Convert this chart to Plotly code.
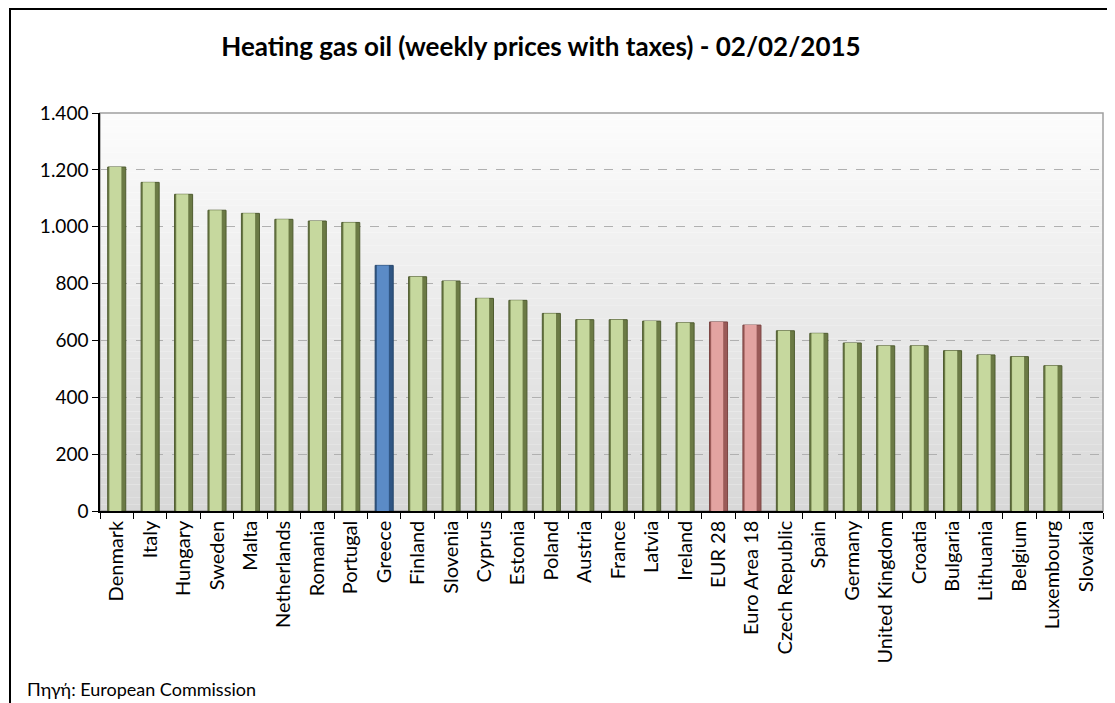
import plotly.graph_objects as go

countries = ["Denmark", "Italy", "Hungary", "Sweden", "Malta", "Netherlands", "Romania",
             "Portugal", "Greece", "Finland", "Slovenia", "Cyprus", "Estonia", "Poland",
             "Austria", "France", "Latvia", "Ireland", "EUR 28", "Euro Area 18",
             "Czech Republic", "Spain", "Germany", "United Kingdom", "Croatia", "Bulgaria",
             "Lithuania", "Belgium", "Luxembourg", "Slovakia"]
prices = [1210, 1156, 1114, 1058, 1047, 1026, 1020, 1015, 864, 824, 809, 748, 741, 695,
          673, 673, 668, 662, 665, 654, 634, 625, 591, 581, 581, 564, 549, 543, 511, None]
y_ticks = [0, 200, 400, 600, 800, 1000, 1200, 1400]

highlight_blue = ["Greece"]
highlight_red = ["EUR 28", "Euro Area 18"]

OFF = 8  # page body margin
W, H = 1115 - OFF, 703 - OFF
L, R, T, B = 100 - OFF, 1103 - OFF, 113 - OFF, 511 - OFF

def col(c, kind):
    if c in highlight_blue:
        return {"dark": "#2f5583", "light": "#5b8bc6", "line": "#24446a"}[kind]
    if c in highlight_red:
        return {"dark": "#9a5a58", "light": "#e3a3a1", "line": "#7d4644"}[kind]
    return {"dark": "#6b7a45", "light": "#c6d89e", "line": "#4f5c30"}[kind]

fig = go.Figure()
fig.add_trace(go.Bar(
    x=countries, y=prices, width=0.54, offset=-0.27,
    marker=dict(color=[col(c, "dark") for c in countries],
                line=dict(color=[col(c, "line") for c in countries], width=1)),
    hoverinfo="x+y", showlegend=False))
fig.add_trace(go.Bar(
    x=countries, y=prices, width=0.36, offset=-0.22,
    marker=dict(color=[col(c, "light") for c in countries], line=dict(width=0)),
    hoverinfo="skip", showlegend=False))

# gradient plot background
shapes = []
n = 60
for i in range(n):
    t = i / (n - 1)
    v = int(round(252 - (252 - 216) * (1 - t)))
    shapes.append(dict(type="rect", xref="x domain", yref="y domain",
                       x0=0, x1=1, y0=i / n, y1=(i + 1) / n,
                       fillcolor=f"rgb({v},{v},{v})", line=dict(width=0), layer="below"))
# plot area outline (gray)
shapes.append(dict(type="rect", xref="x domain", yref="y domain", x0=0, x1=1, y0=0, y1=1,
                   line=dict(color="#a0a0a0", width=1.5), layer="below"))
# outer chart border
pw, ph = R - L, B - T
shapes.append(dict(type="rect", xref="paper", yref="paper",
                   x0=(10 - OFF - L) / pw, x1=(1140 - OFF - L) / pw,
                   y0=(B - 720) / ph, y1=(B - 1) / ph,
                   line=dict(color="black", width=2), layer="above"))

fig.update_layout(
    width=W, height=H, autosize=False,
    margin=dict(l=L, r=W - R, t=T, b=H - B),
    paper_bgcolor="white", plot_bgcolor="rgba(0,0,0,0)",
    barmode="overlay", bargap=0.46,
    separators=",.",
    font=dict(family="Lato, Open Sans, sans-serif", color="black", size=19),
    title=dict(text="<b>Heating gas oil (weekly prices with taxes) - 02/02/2015</b>",
               font=dict(size=26, color="black", family="Lato, Open Sans, sans-serif"),
               xref="container", yref="container", x=(541 - OFF) / W, y=1 - (47 - OFF) / H,
               xanchor="center", yanchor="middle"),
    shapes=shapes,
    annotations=[dict(text="Πηγή: European Commission", xref="paper", yref="paper",
                      x=(25 - OFF - L) / pw, y=(B - (689 - OFF)) / ph,
                      xanchor="left", yanchor="middle",
                      showarrow=False, font=dict(size=18, color="black"))],
)
fig.update_xaxes(type="category", categoryorder="array", categoryarray=countries,
                 tickangle=-90, tickson="boundaries", ticks="outside", ticklen=6,
                 tickcolor="black", showline=True, linecolor="black", linewidth=1.5,
                 showgrid=False, tickfont=dict(size=20))
fig.update_yaxes(range=[0, 1400], tickvals=y_ticks, tickformat=",d",
                 ticks="outside", ticklen=6, tickcolor="black",
                 showline=True, linecolor="black", linewidth=1.5,
                 showgrid=True, gridcolor="#b0b0b0", griddash="dash", gridwidth=1,
                 zeroline=False, tickfont=dict(size=19))

fig.write_html("out.html")
